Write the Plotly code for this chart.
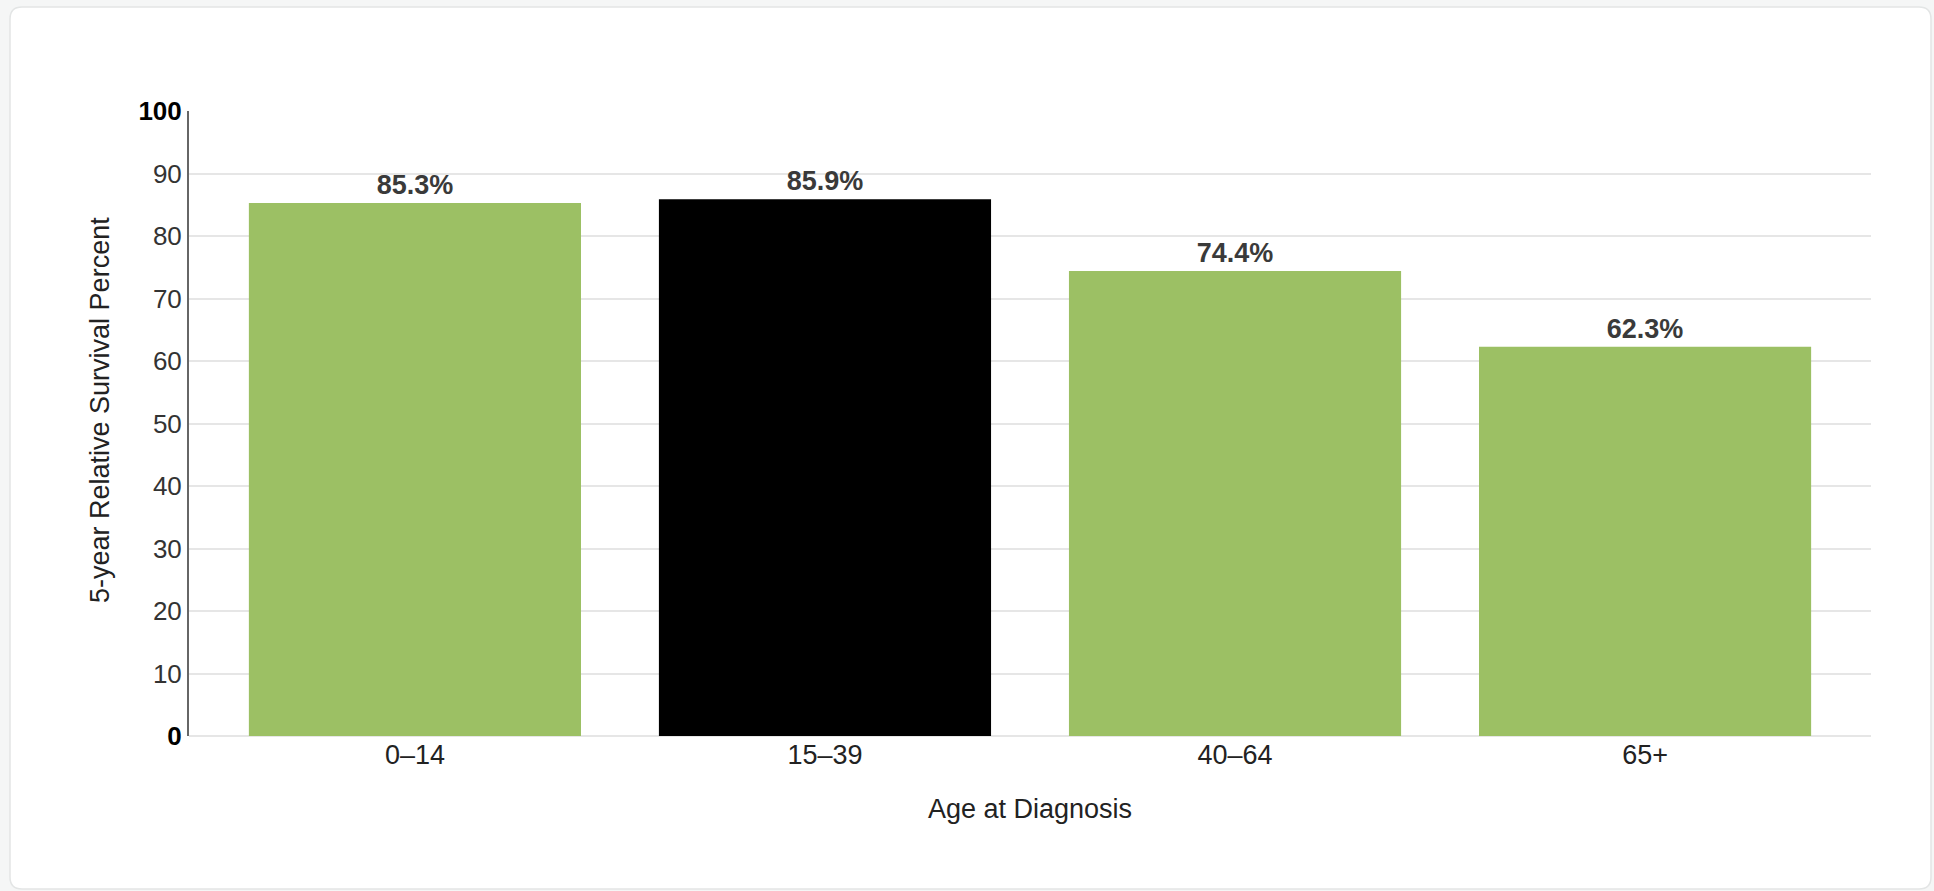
import plotly.graph_objects as go

# ---- data ----
categories = ["0–14", "15–39", "40–64", "65+"]
survival = [85.3, 85.9, 74.4, 62.3]
bar_colors = ["#9CC064", "#000000", "#9CC064", "#9CC064"]
y_tick_vals = [0, 10, 20, 30, 40, 50, 60, 70, 80, 90, 100]
x_title = "Age at Diagnosis"
y_title = "5-year Relative Survival Percent"

# ---- layout geometry (pixels) ----
W, H = 1934, 891
L, R, T, B = 189, 63, 111, 155
pw, ph = W - L - R, H - T - B

def px(x):
    return (x - L) / pw

def py(y):
    return (H - B - y) / ph

FONT = "Liberation Sans, Arial, sans-serif"

y_tick_text = []
for v in y_tick_vals:
    if v in (0, 100):
        y_tick_text.append(f"<b><span style='color:#000'>{v}</span></b>")
    else:
        y_tick_text.append(str(v))

fig = go.Figure(
    go.Bar(
        x=categories,
        y=survival,
        marker=dict(color=bar_colors, line=dict(width=0)),
        texttemplate="%{y:.1f}%",
        textposition="outside",
        textfont=dict(family=FONT, size=27, color="#3a3a3a", weight="bold"),
        cliponaxis=False,
        hoverinfo="skip",
    )
)

# rounded white card
x0, x1, y0, y1, r = px(10), px(1931), py(7), py(889), 12
rx, ry = r / pw, r / ph
card_path = (
    f"M {x0+rx},{y0} L {x1-rx},{y0} Q {x1},{y0} {x1},{y0-ry} "
    f"L {x1},{y1+ry} Q {x1},{y1} {x1-rx},{y1} "
    f"L {x0+rx},{y1} Q {x0},{y1} {x0},{y1+ry} "
    f"L {x0},{y0-ry} Q {x0},{y0} {x0+rx},{y0} Z"
)

fig.update_layout(
    width=W,
    height=H,
    margin=dict(l=L, r=R, t=T, b=B, pad=0),
    paper_bgcolor="#f5f6f6",
    plot_bgcolor="rgba(0,0,0,0)",
    font=dict(family=FONT, size=26, color="#333333"),
    showlegend=False,
    bargap=0.19,
    shapes=[
        dict(
            type="path",
            xref="paper",
            yref="paper",
            path=card_path,
            fillcolor="#ffffff",
            line=dict(color="#e3e5e5", width=1.5),
            layer="below",
        )
    ],
    annotations=[
        dict(
            text=y_title,
            xref="paper",
            yref="paper",
            x=px(100),
            y=py(410),
            xanchor="center",
            yanchor="middle",
            textangle=-90,
            showarrow=False,
            font=dict(family=FONT, size=27, color="#222222"),
        )
    ],
)

fig.update_xaxes(
    range=[-0.551, len(categories) - 1 + 0.551],
    showgrid=False,
    showline=False,
    ticks="",
    tickfont=dict(family=FONT, size=27, color="#222222"),
    title=dict(text=x_title, font=dict(family=FONT, size=27, color="#222222"), standoff=30),
)

fig.update_yaxes(
    range=[0, 100],
    tickvals=y_tick_vals,
    ticktext=y_tick_text,
    tickfont=dict(family=FONT, size=26, color="#333333"),
    showgrid=True,
    gridcolor="#e6e6e6",
    gridwidth=2,
    zeroline=True,
    zerolinecolor="#e6e6e6",
    zerolinewidth=2,
    showline=True,
    linecolor="#666666",
    linewidth=2,
    ticks="",
)

fig.write_html("out.html")
